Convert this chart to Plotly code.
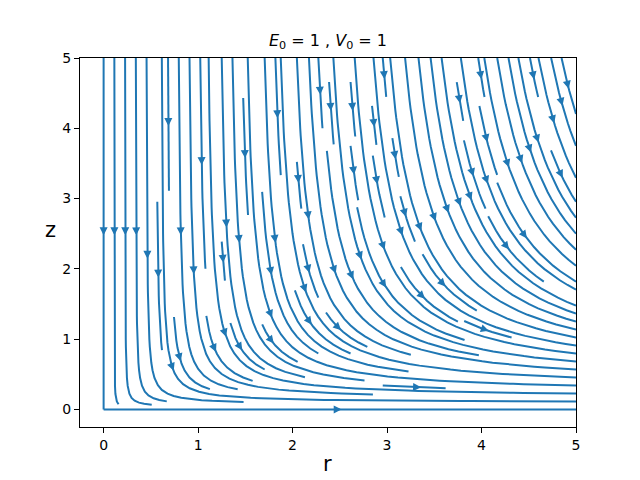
import numpy as np
import plotly.graph_objects as go

# field parameters and sampling grid
E0 = 1
V0 = 1
r = np.linspace(0, 5, 100)
z = np.linspace(0, 5, 100)
R, Z = np.meshgrid(r, z)
U = E0 * R ** 2
W = -6 * V0 * Z ** 2
DENSITY = 1.5

BLUE = '#1f77b4'


class OutOfBounds(Exception):
    pass


class Terminate(Exception):
    pass


class Blocked(Exception):
    pass


def interp(a, xi, yi):
    ny, nx = a.shape
    x, y = int(xi), int(yi)
    xn = x if x == nx - 1 else x + 1
    yn = y if y == ny - 1 else y + 1
    xt, yt = xi - x, yi - y
    a0 = a[y, x] * (1 - xt) + a[y, xn] * xt
    a1 = a[yn, x] * (1 - xt) + a[yn, xn] * xt
    return a0 * (1 - yt) + a1 * yt


def streamlines(x, y, u, v, density=1, minlength=0.1, maxlength=4.0):
    # same scheme as matplotlib's streamplot
    nx, ny = len(x), len(y)
    dx, dy = x[1] - x[0], y[1] - y[0]
    mnx = mny = int(30 * density)
    mask = np.zeros((mny, mnx))
    gx2m, gy2m = (mnx - 1) / (nx - 1), (mny - 1) / (ny - 1)
    ug, vg = u / dx, v / dy
    speed = np.sqrt((ug / (nx - 1)) ** 2 + (vg / (ny - 1)) ** 2)
    state = {'traj': [], 'cur': None}

    def within(xi, yi):
        return 0 <= xi <= nx - 1 and 0 <= yi <= ny - 1

    def g2m(xi, yi):
        return int(round(xi * gx2m)), int(round(yi * gy2m))

    def update(xi, yi):
        if not within(xi, yi):
            raise Blocked
        xm, ym = g2m(xi, yi)
        if state['cur'] != (xm, ym):
            if mask[ym, xm] == 0:
                state['traj'].append((ym, xm))
                mask[ym, xm] = 1
                state['cur'] = (xm, ym)
            else:
                raise Blocked

    def fwd(xi, yi):
        if not within(xi, yi):
            raise OutOfBounds
        s = interp(speed, xi, yi)
        if s == 0:
            raise Terminate
        return interp(ug, xi, yi) / s, interp(vg, xi, yi) / s

    def bwd(xi, yi):
        a, b = fwd(xi, yi)
        return -a, -b

    def euler(traj, f):
        xi, yi = traj[-1]
        cx, cy = f(xi, yi)
        dsx = np.inf if cx == 0 else (xi / -cx if cx < 0 else (nx - 1 - xi) / cx)
        dsy = np.inf if cy == 0 else (yi / -cy if cy < 0 else (ny - 1 - yi) / cy)
        ds = min(dsx, dsy)
        traj.append((xi + cx * ds, yi + cy * ds))
        return ds

    def rk12(x0, y0, f):
        maxerror = 0.003
        maxds = min(1. / mnx, 1. / mny, 0.1)
        ds = maxds
        stotal = 0
        xi, yi = x0, y0
        traj = []
        while True:
            try:
                if within(xi, yi):
                    traj.append((xi, yi))
                else:
                    raise OutOfBounds
                k1x, k1y = f(xi, yi)
                k2x, k2y = f(xi + ds * k1x, yi + ds * k1y)
            except OutOfBounds:
                if traj:
                    stotal += euler(traj, f)
                break
            except Terminate:
                break
            dx1, dy1 = ds * k1x, ds * k1y
            dx2, dy2 = ds * 0.5 * (k1x + k2x), ds * 0.5 * (k1y + k2y)
            err = np.hypot((dx2 - dx1) / (nx - 1), (dy2 - dy1) / (ny - 1))
            if err < maxerror:
                xi += dx2
                yi += dy2
                try:
                    update(xi, yi)
                except Blocked:
                    break
                if stotal + ds > maxlength:
                    break
                stotal += ds
            ds = maxds if err == 0 else min(maxds, 0.85 * ds * (maxerror / err) ** 0.5)
        return stotal, traj

    def integrate(x0, y0):
        state['traj'] = []
        state['cur'] = None
        try:
            update(x0, y0)
        except Blocked:
            return None
        s1, t1 = rk12(x0, y0, bwd)
        state['cur'] = g2m(x0, y0)
        s2, t2 = rk12(x0, y0, fwd)
        traj = t1[::-1] + t2[1:]
        if s1 + s2 > minlength:
            return np.array(traj)
        for t in state['traj']:
            mask[t] = 0
        return None

    def starts():
        xf, yf, xl, yl = 0, 1, mnx - 1, mny - 1
        xs, ys, d = 0, 0, 'right'
        for _ in range(mnx * mny):
            yield xs, ys
            if d == 'right':
                xs += 1
                if xs >= xl:
                    xl -= 1
                    d = 'up'
            elif d == 'up':
                ys += 1
                if ys >= yl:
                    yl -= 1
                    d = 'left'
            elif d == 'left':
                xs -= 1
                if xs <= xf:
                    xf += 1
                    d = 'down'
            else:
                ys -= 1
                if ys <= yf:
                    yf += 1
                    d = 'right'

    out = []
    for xm, ym in starts():
        if mask[ym, xm] == 0:
            t = integrate(xm / gx2m, ym / gy2m)
            if t is not None:
                out.append(np.column_stack([t[:, 0] * dx + x[0], t[:, 1] * dy + y[0]]))
    return out


lines = streamlines(r, z, U, W, density=DENSITY)

# page has an 8px body margin, so the figure is 632x472 placed at (8, 8)
FW, FH = 632, 472
L, RM, T, B = 72, 64, 50, 53
PW, PH = FW - L - RM, FH - T - B
xr = [-0.25, 5]
yr = [-0.25, 5]
pxx = PW / (xr[1] - xr[0])
pxy = PH / (yr[1] - yr[0])

lx, ly, ax, ay = [], [], [], []
for tr in lines:
    tx, ty = tr[:, 0], tr[:, 1]
    lx += list(tx) + [None]
    ly += list(ty) + [None]
    s = np.cumsum(np.hypot(np.diff(tx), np.diff(ty)))
    n = np.searchsorted(s, s[-1] / 2.)
    tail = np.array([tx[n], ty[n]])
    head = np.array([np.mean(tx[n:n + 2]), np.mean(ty[n:n + 2])])
    d = np.array([(head[0] - tail[0]) * pxx, (head[1] - tail[1]) * pxy])
    nrm = np.hypot(*d)
    if nrm == 0:
        continue
    d /= nrm
    p = np.array([-d[1], d[0]])
    hl, hw = 5.6, 2.8
    base = -d * hl
    c1 = base + p * hw
    c2 = base - p * hw
    pts = [head,
           head + np.array([c1[0] / pxx, c1[1] / pxy]),
           head + np.array([c2[0] / pxx, c2[1] / pxy]),
           head]
    ax += [q[0] for q in pts] + [None]
    ay += [q[1] for q in pts] + [None]

fig = go.Figure()
fig.add_trace(go.Scatter(x=lx, y=ly, mode='lines', line=dict(color=BLUE, width=2),
                         hoverinfo='skip', showlegend=False))
fig.add_trace(go.Scatter(x=ax, y=ay, mode='lines', fill='toself', fillcolor=BLUE,
                         line=dict(color=BLUE, width=1.5), hoverinfo='skip', showlegend=False))

axis = dict(showgrid=False, zeroline=False, showline=True, mirror=True, linecolor='black',
            linewidth=1, ticks='outside', ticklen=5, tickcolor='black',
            tickfont=dict(family='DejaVu Sans', size=14, color='black'), dtick=1)
fig.update_xaxes(range=xr, **axis)
fig.update_yaxes(range=yr, **axis)


def page_to_paper(px, py):
    return (px - 8 - L) / PW, (FH + 8 - B - py) / PH


rx, ry = page_to_paper(327, 464)
zx, zy = page_to_paper(50, 230)
fig.update_layout(
    width=FW, height=FH, margin=dict(l=L, r=RM, t=T, b=B),
    plot_bgcolor='white', paper_bgcolor='white', showlegend=False,
    title=dict(text='<i>E</i><sub>0</sub> = 1 , <i>V</i><sub>0</sub> = 1',
               font=dict(family='DejaVu Sans', size=16, color='black'),
               x=(L + PW / 2) / FW, xanchor='center',
               y=1 - (46 - 8) / FH, yanchor='bottom', yref='container'),
    annotations=[
        dict(text='r', x=rx, y=ry, xref='paper', yref='paper', showarrow=False,
             xanchor='center', yanchor='middle',
             font=dict(family='DejaVu Sans', size=21, color='black')),
        dict(text='z', x=zx, y=zy, xref='paper', yref='paper', showarrow=False,
             xanchor='center', yanchor='middle',
             font=dict(family='DejaVu Sans', size=21, color='black')),
    ],
)

fig.write_html("out.html")
